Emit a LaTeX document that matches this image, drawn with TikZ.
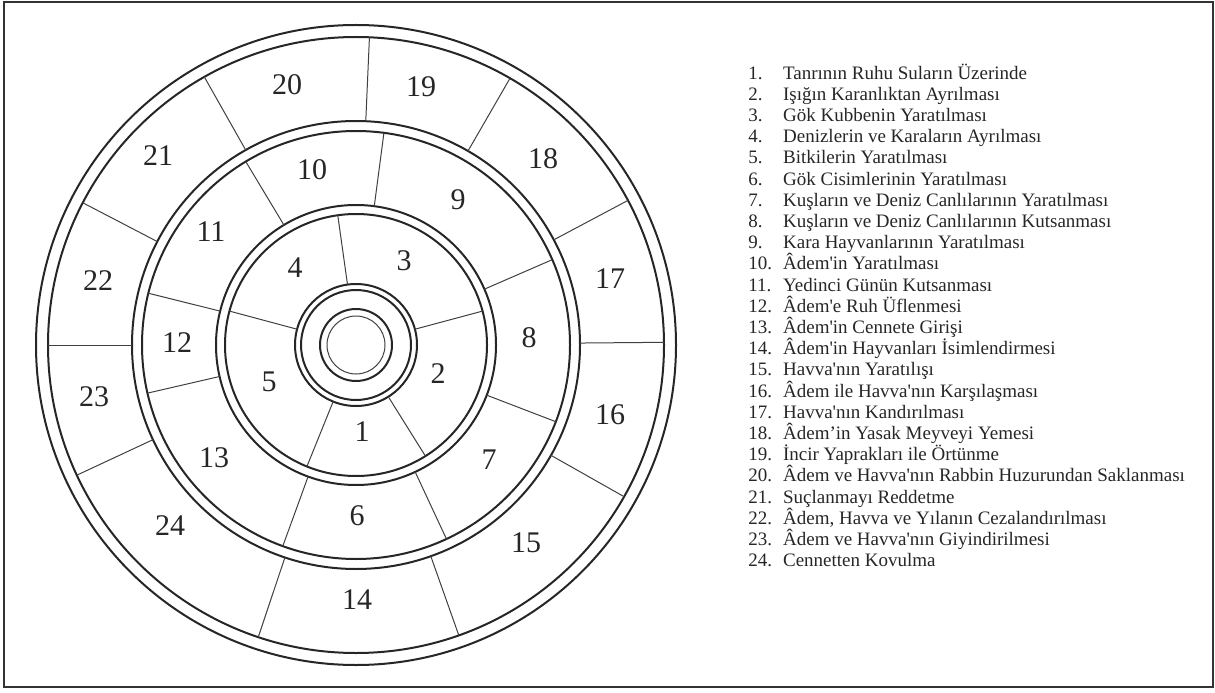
\documentclass[tikz,border=0pt]{standalone}
\usepackage{fontspec}
\setmainfont{Liberation Serif}
\usepackage{tikz}
\usetikzlibrary{positioning}

\newcommand{\apos}{\textquotesingle}

\begin{document}
\begin{tikzpicture}[x=0.5pt, y=0.5pt]
    % Define styles
    \tikzstyle{ring} = [draw=black!85, line width=1pt]
    \tikzstyle{spoke} = [draw=black!75, line width=0.5pt]
    \tikzstyle{num} = [font=\fontsize{15}{18}\selectfont, text=black!85, inner sep=0pt]
    \tikzstyle{item} = [anchor=base west, inner sep=0pt, font=\fontsize{9.5}{11}\selectfont, text=black!85]

    % Frame
    \useasboundingbox (0,0) rectangle (1215,692);
    \draw[black!80, line width=1pt] (4,5) rectangle (1213,690);

    % Rings
    \coordinate (c) at (356,347);
    \begin{scope}[shift={(c)}]
        \foreach \r in {320,308,224,214,140,131,61,55,36}
            \draw[ring] (0,0) circle (\r);
        \draw[spoke] (0,0) circle (29);

        % Spokes
        \foreach \a in {87.5,60,28,0.5,-29.5,-70.5,-108.5,-155,180,152.5,119.5}
            \draw[spoke] (\a:224) -- (\a:308);
        \foreach \a in {82.5,23.5,-21,-65,-110,-167,166,121}
            \draw[spoke] (\a:140) -- (\a:214);
        \foreach \a in {98,15,-58,-112,165}
            \draw[spoke] (\a:61) -- (\a:131);
    \end{scope}

    % Inner ring
    \node[num] (n1) at (362,260) {1};
    \node[num] (n2) at (438,318) {2};
    \node[num] (n3) at (404,431) {3};
    \node[num] (n4) at (295,424) {4};
    \node[num] (n5) at (269,310) {5};

    % Middle ring
    \node[num] (n6) at (357,176) {6};
    \node[num] (n7) at (489,232) {7};
    \node[num] (n8) at (529,354) {8};
    \node[num] (n9) at (458,492) {9};
    \node[num] (n10) at (312,522) {10};
    \node[num] (n11) at (211,460) {11};
    \node[num] (n12) at (177,349) {12};
    \node[num] (n13) at (214,234) {13};

    % Outer ring
    \node[num] (n14) at (357,92) {14};
    \node[num] (n15) at (526,149) {15};
    \node[num] (n16) at (610,277) {16};
    \node[num] (n17) at (610,413) {17};
    \node[num] (n18) at (543,533) {18};
    \node[num] (n19) at (421,605) {19};
    \node[num] (n20) at (287,607) {20};
    \node[num] (n21) at (158,536) {21};
    \node[num] (n22) at (98,411) {22};
    \node[num] (n23) at (94,295) {23};
    \node[num] (n24) at (170,166) {24};

    % Legend
    \foreach \t [count=\i] in {
        Tanrının Ruhu Suların Üzerinde,
        Işığın Karanlıktan Ayrılması,
        Gök Kubbenin Yaratılması,
        Denizlerin ve Karaların Ayrılması,
        Bitkilerin Yaratılması,
        Gök Cisimlerinin Yaratılması,
        Kuşların ve Deniz Canlılarının Yaratılması,
        Kuşların ve Deniz Canlılarının Kutsanması,
        Kara Hayvanlarının Yaratılması,
        Âdem\apos in Yaratılması,
        Yedinci Günün Kutsanması,
        Âdem\apos e Ruh Üflenmesi,
        Âdem\apos in Cennete Girişi,
        Âdem\apos in Hayvanları İsimlendirmesi,
        Havva\apos nın Yaratılışı,
        Âdem ile Havva\apos nın Karşılaşması,
        Havva\apos nın Kandırılması,
        Âdem’in Yasak Meyveyi Yemesi,
        İncir Yaprakları ile Örtünme,
        Âdem ve Havva\apos nın Rabbin Huzurundan Saklanması,
        Suçlanmayı Reddetme,
        {Âdem, Havva ve Yılanın Cezalandırılması},
        Âdem ve Havva\apos nın Giyindirilmesi,
        Cennetten Kovulma}
    {
        \node[item] (num\i) at (748,{612.9-21.2*(\i-1)}) {\i.};
        \node[item] (item\i) at (782.7,{612.9-21.2*(\i-1)}) {\t};
    }
\end{tikzpicture}
\end{document}
